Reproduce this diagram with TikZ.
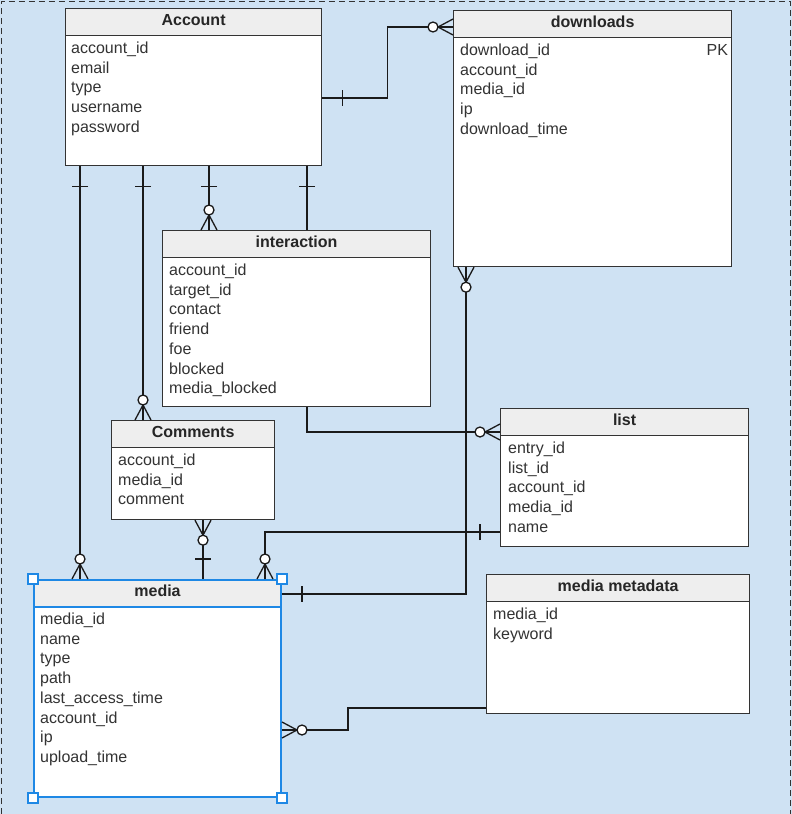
\documentclass[tikz,border=0pt]{standalone}
\usepackage{fontspec}
\setmainfont{Liberation Sans}
\usetikzlibrary{calc}
\definecolor{bg}{HTML}{CFE2F3}
\definecolor{ink}{HTML}{333333}
\definecolor{headfill}{HTML}{EEEEEE}
\definecolor{sel}{HTML}{1E88E5}
\definecolor{wire}{HTML}{1A1A1A}

\begin{document}
\begin{tikzpicture}[x=1pt,y=-1pt,
  tbox/.style={draw=ink, line width=1.2pt, fill=white, anchor=north west, inner sep=0pt},
  thead/.style={draw=ink, line width=1.2pt, fill=headfill, anchor=north west, inner sep=0pt, minimum height=27pt},
  ttitle/.style={anchor=base, inner sep=0pt, font=\fontsize{16}{19.7}\selectfont\bfseries, text=black!85},
  field/.style={anchor=base west, inner sep=0pt, font=\fontsize{16}{19.7}\selectfont, text=ink},
  conn/.style={draw=wire, line width=1.3pt},
  one/.pic={\draw[conn] (20,-8) -- (20,8);},
  zeromany/.pic={\draw[conn] (0,-8) -- (15,0) -- (0,8) (0,0) -- (15,0);
                 \draw[conn, fill=white] (20,0) circle (5pt);},
  handle/.style={draw=sel, line width=1.2pt, fill=white, minimum size=10pt, inner sep=0pt}
]
% canvas and frame
\useasboundingbox (0,0) rectangle (792,814);
\fill[bg] (0,0) rectangle (792,814);
\draw[ink, line width=1.5pt, dash pattern=on 6pt off 4pt] (1.5,814) -- (1.5,1.5) -- (790.5,1.5) -- (790.5,814);

% Account
\node[tbox, minimum width=256pt, minimum height=157pt] (acc) at (65,8) {};
\node[thead, minimum width=256pt] (acc-h) at (acc.north west) {};
\node[ttitle] (acc-t) at ($(acc.north)+(0,17)$) {Account};
\foreach \f [count=\i] in {account\_id, email, type, username, password}
  \node[field] (acc-\i) at ($(acc.north west)+(6,25.8+19.7*\i)$) {\f};

% downloads
\node[tbox, minimum width=278pt, minimum height=256pt] (dl) at (453,10) {};
\node[thead, minimum width=278pt] (dl-h) at (dl.north west) {};
\node[ttitle] (dl-t) at ($(dl.north)+(0,17)$) {downloads};
\foreach \f [count=\i] in {download\_id, account\_id, media\_id, ip, download\_time}
  \node[field] (dl-\i) at ($(dl.north west)+(7,25.8+19.7*\i)$) {\f};
\node[field, anchor=base east] (dl-pk) at ($(dl.north east)+(-4,45.5)$) {PK};

% interaction
\node[tbox, minimum width=268pt, minimum height=176pt] (inter) at (162,230) {};
\node[thead, minimum width=268pt] (inter-h) at (inter.north west) {};
\node[ttitle] (inter-t) at ($(inter.north)+(0,17)$) {interaction};
\foreach \f [count=\i] in {account\_id, target\_id, contact, friend, foe, blocked, media\_blocked}
  \node[field] (inter-\i) at ($(inter.north west)+(7,25.8+19.7*\i)$) {\f};

% Comments
\node[tbox, minimum width=163pt, minimum height=99pt] (com) at (111,420) {};
\node[thead, minimum width=163pt] (com-h) at (com.north west) {};
\node[ttitle] (com-t) at ($(com.north)+(0,17)$) {Comments};
\foreach \f [count=\i] in {account\_id, media\_id, comment}
  \node[field] (com-\i) at ($(com.north west)+(7,25.8+19.7*\i)$) {\f};

% list
\node[tbox, minimum width=248pt, minimum height=138pt] (lst) at (500,408) {};
\node[thead, minimum width=248pt] (lst-h) at (lst.north west) {};
\node[ttitle] (lst-t) at ($(lst.north)+(0,17)$) {list};
\foreach \f [count=\i] in {entry\_id, list\_id, account\_id, media\_id, name}
  \node[field] (lst-\i) at ($(lst.north west)+(8,25.8+19.7*\i)$) {\f};

% media metadata
\node[tbox, minimum width=263pt, minimum height=139pt] (meta) at (486,574) {};
\node[thead, minimum width=263pt] (meta-h) at (meta.north west) {};
\node[ttitle] (meta-t) at ($(meta.north)+(0,17)$) {media metadata};
\foreach \f [count=\i] in {media\_id, keyword}
  \node[field] (meta-\i) at ($(meta.north west)+(7,25.8+19.7*\i)$) {\f};

% media (selected)
\node[tbox, draw=sel, line width=2pt, minimum width=247pt, minimum height=217pt] (med) at (33,579) {};
\node[thead, draw=sel, line width=2pt, minimum width=247pt] (med-h) at (med.north west) {};
\node[ttitle] (med-t) at ($(med.north)+(0,17)$) {media};
\foreach \f [count=\i] in {media\_id, name, type, path, last\_access\_time, account\_id, ip, upload\_time}
  \node[field] (med-\i) at ($(med.north west)+(7,25.8+19.7*\i)$) {\f};

% relationship end points
\coordinate (p1a) at ($(acc.north east)+(0,90)$);
\coordinate (p1b) at ($(dl.north west)+(0,17)$);
\coordinate (p2a) at ($(acc.south west)+(15,0)$);
\coordinate (p2b) at ($(med.north west)+(47,0)$);
\coordinate (p3a) at ($(acc.south west)+(78,0)$);
\coordinate (p3b) at ($(com.north west)+(32,0)$);
\coordinate (p4a) at ($(acc.south west)+(144,0)$);
\coordinate (p4b) at ($(inter.north west)+(47,0)$);
\coordinate (p5a) at ($(acc.south west)+(242,0)$);
\coordinate (p5b) at ($(inter.north west)+(145,0)$);
\coordinate (p6a) at ($(inter.south west)+(145,0)$);
\coordinate (p6b) at ($(lst.north west)+(0,24)$);
\coordinate (p7a) at ($(dl.south west)+(13,0)$);
\coordinate (p7b) at ($(med.north east)+(0,15)$);
\coordinate (p8a) at ($(lst.north west)+(0,124)$);
\coordinate (p8b) at ($(med.north west)+(232,0)$);
\coordinate (p9a) at ($(com.south west)+(92,0)$);
\coordinate (p9b) at ($(med.north west)+(170,0)$);
\coordinate (p10a) at ($(meta.north west)+(0,134)$);
\coordinate (p10b) at ($(med.north east)+(0,151)$);

% connectors
\draw[conn] (p1a) -| ($(p1a)!.5!(p1b)$) |- (p1b);
\draw[conn] (p2a) -- (p2b);
\draw[conn] (p3a) -- (p3b);
\draw[conn] (p4a) -- (p4b);
\draw[conn] (p5a) -- (p5b);
\draw[conn] (p6a) |- (p6b);
\draw[conn] (p7a) |- (p7b);
\draw[conn] (p8a) -| (p8b);
\draw[conn] (p9a) -- (p9b);
\draw[conn] (p10a) -| ($(p10b)+(66,0)$) -- (p10b);

% cardinality marks
\pic at (p1a) {one};
\pic[rotate=180] at (p1b) {zeromany};
\pic[rotate=-90] at (p2a) {one};
\pic[rotate=90] at (p2b) {zeromany};
\pic[rotate=-90] at (p3a) {one};
\pic[rotate=90] at (p3b) {zeromany};
\pic[rotate=-90] at (p4a) {one};
\pic[rotate=90] at (p4b) {zeromany};
\pic[rotate=-90] at (p5a) {one};
\pic[rotate=180] at (p6b) {zeromany};
\pic[rotate=-90] at (p7a) {zeromany};
\pic at (p7b) {one};
\pic[rotate=180] at (p8a) {one};
\pic[rotate=90] at (p8b) {zeromany};
\pic[rotate=-90] at (p9a) {zeromany};
\pic[rotate=90] at (p9b) {one};
\pic at (p10b) {zeromany};

% selection handles
\node[handle] (hd1) at (med.north west) {};
\node[handle] (hd2) at (med.north east) {};
\node[handle] (hd3) at (med.south west) {};
\node[handle] (hd4) at (med.south east) {};
\end{tikzpicture}
\end{document}
